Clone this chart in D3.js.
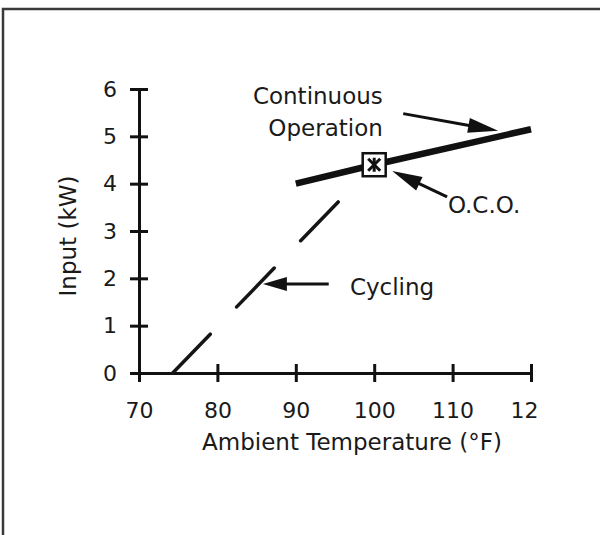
<!DOCTYPE html>
<html>
<head>
<meta charset="utf-8">
<script src="https://cdn.jsdelivr.net/npm/d3@7"></script>
<style>
  body { margin: 0; background: #fff; }
  text { font-family: "DejaVu Sans", sans-serif; fill: #1a1a1a; }
</style>
</head>
<body>
<div id="app"></div>
<script>
// input power vs ambient temperature
var continuousTemp = [90, 100, 120]
var continuousKw = [4.0, 4.4, 5.15]
var cyclingTemp = [74.3, 100]
var cyclingKw = [0, 4.4]
var ocoTemp = 100
var ocoKw = 4.4
var xTicks = [70, 80, 90, 100, 110, 120]
var yTicks = [0, 1, 2, 3, 4, 5, 6]

var width = 600, height = 535

var x = d3.scaleLinear().domain([70, 120]).range([139, 531])
var y = d3.scaleLinear().domain([0, 6]).range([373, 89])

var svg = d3.select("#app")
  .append("svg")
  .attr("width", width)
  .attr("height", height)

// scan frame, only top + left edge are visible
svg.append("path")
  .attr("d", "M3,535V9H600")
  .attr("fill", "none")
  .attr("stroke", "#3a3a3a")
  .attr("stroke-width", 2.5)

// clip so the last x label gets cut like in the scan ("12")
svg.append("clipPath")
  .attr("id", "xclip")
  .append("rect")
  .attr("x", 0).attr("y", -20)
  .attr("width", 537).attr("height", 100)

// x axis
var xAxis = svg.append("g")
  .attr("transform", "translate(0," + y(0) + ")")
  .attr("clip-path", "url(#xclip)")
  .call(d3.axisBottom(x).tickValues(xTicks).tickFormat(d3.format("d"))
    .tickSize(9).tickSizeOuter(0).tickPadding(20))
xAxis.attr("font-size", 22).attr("color", "#111")
xAxis.select(".domain").attr("stroke-width", 3).attr("d", "M" + (x(70) - 9) + ",0.5H" + x(120))
xAxis.selectAll(".tick line").attr("y1", -9).attr("stroke-width", 3)

// y axis
var yAxis = svg.append("g")
  .attr("transform", "translate(" + x(70) + ",0)")
  .call(d3.axisLeft(y).tickValues(yTicks).tickFormat(d3.format("d"))
    .tickSize(9).tickSizeOuter(0).tickPadding(13))
yAxis.attr("font-size", 22).attr("color", "#111")
yAxis.select(".domain").attr("stroke-width", 3).attr("d", "M0.5," + y(6) + "V" + (y(0) + 9))
yAxis.selectAll(".tick line").attr("x1", 9).attr("stroke-width", 3)

// axis titles
svg.append("text")
  .attr("x", 352)
  .attr("y", 450)
  .attr("text-anchor", "middle")
  .attr("font-size", 23)
  .text("Ambient Temperature (°F)")

svg.append("text")
  .attr("transform", "translate(76,236) rotate(-90)")
  .attr("text-anchor", "middle")
  .attr("font-size", 23)
  .text("Input (kW)")

var line = d3.line()
  .x(function (d) { return x(d[0]) })
  .y(function (d) { return y(d[1]) })

// cycling - dashed
svg.append("path")
  .datum(cyclingTemp.map(function (t, i) { return [t, cyclingKw[i]] }))
  .attr("d", line)
  .attr("fill", "none")
  .attr("stroke", "#151515")
  .attr("stroke-width", 3.5)
  .attr("stroke-linecap", "round")
  .attr("stroke-dasharray", "54 38")

// continuous operation - thick
svg.append("path")
  .datum(continuousTemp.map(function (t, i) { return [t, continuousKw[i]] }))
  .attr("d", line)
  .attr("fill", "none")
  .attr("stroke", "#111")
  .attr("stroke-width", 6.5)

// O.C.O. marker box
var ox = x(ocoTemp), oy = y(ocoKw)
svg.append("rect")
  .attr("x", ox - 11.5).attr("y", oy - 11.5)
  .attr("width", 23).attr("height", 23)
  .attr("fill", "#fff")
  .attr("stroke", "#111")
  .attr("stroke-width", 2.5)
var star = svg.append("g").attr("stroke", "#111").attr("stroke-width", 3)
star.append("line").attr("x1", ox).attr("x2", ox).attr("y1", oy - 7).attr("y2", oy + 7)
star.append("line").attr("x1", ox - 6).attr("x2", ox + 6).attr("y1", oy - 6).attr("y2", oy + 6)
star.append("line").attr("x1", ox - 6).attr("x2", ox + 6).attr("y1", oy + 6).attr("y2", oy - 6)

// annotation arrows (data coords)
function arrow(from, to, headLen, headW) {
  var x0 = x(from[0]), y0 = y(from[1]), x1 = x(to[0]), y1 = y(to[1])
  var dx = x1 - x0, dy = y1 - y0
  var len = Math.sqrt(dx * dx + dy * dy)
  var ux = dx / len, uy = dy / len
  var bx = x1 - ux * headLen, by = y1 - uy * headLen
  svg.append("line")
    .attr("x1", x0).attr("y1", y0)
    .attr("x2", bx + ux * 2).attr("y2", by + uy * 2)
    .attr("stroke", "#111")
    .attr("stroke-width", 3)
  svg.append("path")
    .attr("d", "M" + x1 + "," + y1 +
      "L" + (bx - uy * headW / 2) + "," + (by + ux * headW / 2) +
      "L" + (bx + uy * headW / 2) + "," + (by - ux * headW / 2) + "Z")
    .attr("fill", "#111")
}

arrow([103.7, 5.48], [115.8, 5.12], 30, 15)
arrow([109.3, 3.72], [102.3, 4.27], 30, 15)
arrow([94.2, 1.88], [85.8, 1.88], 24, 14)

// labels
svg.append("text")
  .attr("x", x(101.1)).attr("y", y(5.68))
  .attr("text-anchor", "end")
  .attr("font-size", 23)
  .text("Continuous")
svg.append("text")
  .attr("x", x(101.1)).attr("y", y(5.01))
  .attr("text-anchor", "end")
  .attr("font-size", 23)
  .text("Operation")
svg.append("text")
  .attr("x", x(109.4)).attr("y", y(3.38))
  .attr("font-size", 23)
  .text("O.C.O.")
svg.append("text")
  .attr("x", x(96.9)).attr("y", y(1.65))
  .attr("font-size", 23)
  .text("Cycling")
</script>
</body>
</html>
